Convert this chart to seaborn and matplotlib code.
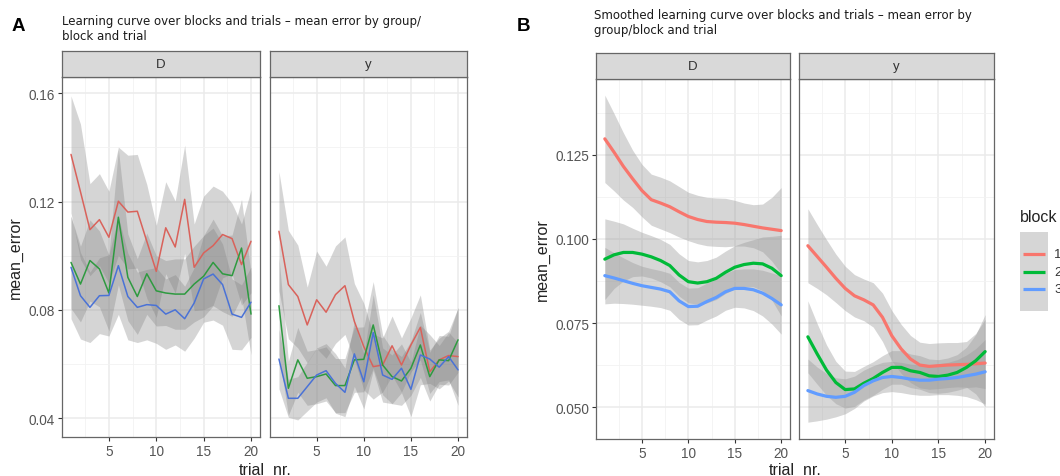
import numpy as np
import pandas as pd
import matplotlib
matplotlib.use("Agg")
import matplotlib.pyplot as plt
from matplotlib.ticker import MultipleLocator
import seaborn as sns

# ---------------- data ----------------
trials = list(range(1, 21))
groups = ["D", "y"]
blocks = ["1", "2", "3"]

# Panel A: raw mean error per trial
a_D_1 = [0.1374, 0.1236, 0.1096, 0.1133, 0.1068, 0.1201, 0.1161, 0.1164, 0.1053, 0.0942,
         0.1103, 0.1032, 0.1208, 0.0957, 0.1010, 0.1037, 0.1078, 0.1063, 0.0967, 0.1053]
a_D_2 = [0.0975, 0.0895, 0.0982, 0.0951, 0.0862, 0.1142, 0.0920, 0.0849, 0.0933, 0.0870,
         0.0862, 0.0858, 0.0858, 0.0895, 0.0924, 0.0975, 0.0933, 0.0926, 0.1028, 0.0784]
a_D_3 = [0.0957, 0.0852, 0.0809, 0.0852, 0.0853, 0.0963, 0.0849, 0.0809, 0.0819, 0.0816,
         0.0784, 0.0800, 0.0767, 0.0825, 0.0914, 0.0932, 0.0893, 0.0784, 0.0772, 0.0828]
a_y_1 = [0.1090, 0.0893, 0.0849, 0.0744, 0.0837, 0.0791, 0.0856, 0.0889, 0.0757, 0.0664,
         0.0590, 0.0596, 0.0667, 0.0596, 0.0670, 0.0735, 0.0571, 0.0615, 0.0631, 0.0627]
a_y_2 = [0.0815, 0.0510, 0.0615, 0.0547, 0.0553, 0.0563, 0.0520, 0.0520, 0.0615, 0.0617,
         0.0744, 0.0596, 0.0553, 0.0537, 0.0584, 0.0670, 0.0553, 0.0615, 0.0612, 0.0689]
a_y_3 = [0.0618, 0.0473, 0.0473, 0.0516, 0.0559, 0.0575, 0.0528, 0.0495, 0.0637, 0.0534,
         0.0716, 0.0559, 0.0543, 0.0584, 0.0506, 0.0633, 0.0618, 0.0588, 0.0627, 0.0578]

# Panel A: ribbon half widths
ea_D_1 = [0.0216, 0.025, 0.017, 0.017, 0.017, 0.020, 0.021, 0.021, 0.021, 0.017,
          0.017, 0.017, 0.020, 0.016, 0.021, 0.022, 0.016, 0.013, 0.015, 0.019]
ea_D_2 = [0.017, 0.014, 0.015, 0.014, 0.014, 0.025, 0.016, 0.014, 0.015, 0.013,
          0.012, 0.013, 0.013, 0.014, 0.015, 0.016, 0.014, 0.015, 0.018, 0.015]
ea_D_3 = [0.019, 0.016, 0.013, 0.014, 0.015, 0.018, 0.016, 0.013, 0.013, 0.014,
          0.013, 0.013, 0.012, 0.013, 0.016, 0.017, 0.015, 0.013, 0.012, 0.013]
ea_y_1 = [0.022, 0.020, 0.019, 0.014, 0.018, 0.017, 0.018, 0.018, 0.014, 0.016,
          0.012, 0.010, 0.011, 0.010, 0.010, 0.012, 0.008, 0.008, 0.009, 0.018]
ea_y_2 = [0.018, 0.010, 0.012, 0.010, 0.010, 0.010, 0.010, 0.010, 0.012, 0.012,
          0.016, 0.011, 0.010, 0.009, 0.010, 0.012, 0.009, 0.009, 0.009, 0.012]
ea_y_3 = [0.011, 0.007, 0.008, 0.009, 0.010, 0.010, 0.011, 0.009, 0.012, 0.010,
          0.014, 0.010, 0.009, 0.009, 0.010, 0.011, 0.009, 0.008, 0.009, 0.010]

# Panel B: smoothed mean error
b_D_1 = [0.1298, 0.1258, 0.1216, 0.1179, 0.1144, 0.1117, 0.1107, 0.1096, 0.1081, 0.1067,
         0.1058, 0.1052, 0.1050, 0.1049, 0.1047, 0.1043, 0.1038, 0.1033, 0.1029, 0.1025]
b_D_2 = [0.0940, 0.0953, 0.0960, 0.0960, 0.0955, 0.0947, 0.0936, 0.0921, 0.0893, 0.0873,
         0.0869, 0.0873, 0.0883, 0.0901, 0.0916, 0.0924, 0.0928, 0.0926, 0.0913, 0.0891]
b_D_3 = [0.0891, 0.0884, 0.0876, 0.0868, 0.0861, 0.0856, 0.0851, 0.0843, 0.0816, 0.0799,
         0.0800, 0.0814, 0.0826, 0.0843, 0.0853, 0.0853, 0.0849, 0.0839, 0.0823, 0.0804]
b_y_1 = [0.0980, 0.0948, 0.0916, 0.0883, 0.0853, 0.0831, 0.0819, 0.0804, 0.0767, 0.0712,
         0.0673, 0.0643, 0.0625, 0.0621, 0.0623, 0.0625, 0.0626, 0.0627, 0.0629, 0.0631]
b_y_2 = [0.0709, 0.0658, 0.0610, 0.0573, 0.0552, 0.0554, 0.0571, 0.0585, 0.0603, 0.0618,
         0.0618, 0.0608, 0.0603, 0.0593, 0.0591, 0.0595, 0.0603, 0.0618, 0.0638, 0.0665]
b_y_3 = [0.0549, 0.0539, 0.0532, 0.0529, 0.0532, 0.0544, 0.0564, 0.0578, 0.0588, 0.0591,
         0.0588, 0.0583, 0.0580, 0.0580, 0.0583, 0.0585, 0.0588, 0.0593, 0.0598, 0.0605]

# Panel B: confidence band half widths
eb_D_1 = [0.013, 0.0115, 0.010, 0.0085, 0.0078, 0.0076, 0.0077, 0.0077, 0.0075, 0.0072,
          0.0072, 0.0072, 0.0072, 0.0072, 0.0068, 0.0064, 0.0064, 0.0071, 0.0095, 0.0128]
eb_D_2 = [0.012, 0.010, 0.0085, 0.0072, 0.0065, 0.0063, 0.0063, 0.0063, 0.0063, 0.0063,
          0.0063, 0.0063, 0.0063, 0.0063, 0.0064, 0.0066, 0.0070, 0.0080, 0.0095, 0.012]
eb_D_3 = [0.0084, 0.0075, 0.0068, 0.0062, 0.0058, 0.0056, 0.0055, 0.0055, 0.0055, 0.0055,
          0.0055, 0.0055, 0.0055, 0.0055, 0.0056, 0.0058, 0.0062, 0.0068, 0.0076, 0.0087]
eb_y_1 = [0.011, 0.0095, 0.0082, 0.0072, 0.0066, 0.0063, 0.0062, 0.0066, 0.0072, 0.0075,
          0.0073, 0.0070, 0.0068, 0.0068, 0.0068, 0.0067, 0.0066, 0.0068, 0.0090, 0.0130]
eb_y_2 = [0.0107, 0.0090, 0.0075, 0.0063, 0.0055, 0.0052, 0.0050, 0.0050, 0.0050, 0.0050,
          0.0050, 0.0050, 0.0050, 0.0050, 0.0050, 0.0051, 0.0053, 0.0060, 0.0078, 0.0110]
eb_y_3 = [0.0094, 0.0080, 0.0068, 0.0058, 0.0052, 0.0048, 0.0046, 0.0045, 0.0045, 0.0045,
          0.0045, 0.0045, 0.0045, 0.0045, 0.0046, 0.0048, 0.0053, 0.0062, 0.0076, 0.0096]

title_a = "Learning curve over blocks and trials \u2013 mean error by group/\nblock and trial"
title_b = "Smoothed learning curve over blocks and trials \u2013 mean error by\ngroup/block and trial"
ylabel = "mean_error"
xlabel = "trial_nr."
a_yticks = [0.04, 0.08, 0.12, 0.16]
b_yticks = [0.050, 0.075, 0.100, 0.125]
xticks = [5, 10, 15, 20]


def long_frame(means, errs):
    rows = []
    for g in groups:
        for b in blocks:
            m = means[(g, b)]
            e = errs[(g, b)]
            for t, v, s in zip(trials, m, e):
                rows.append(dict(group=g, block=b, trial=t, mean_error=v,
                                 lo=v - s, hi=v + s))
    return pd.DataFrame(rows)


dfA = long_frame({("D", "1"): a_D_1, ("D", "2"): a_D_2, ("D", "3"): a_D_3,
                  ("y", "1"): a_y_1, ("y", "2"): a_y_2, ("y", "3"): a_y_3},
                 {("D", "1"): ea_D_1, ("D", "2"): ea_D_2, ("D", "3"): ea_D_3,
                  ("y", "1"): ea_y_1, ("y", "2"): ea_y_2, ("y", "3"): ea_y_3})
dfB = long_frame({("D", "1"): b_D_1, ("D", "2"): b_D_2, ("D", "3"): b_D_3,
                  ("y", "1"): b_y_1, ("y", "2"): b_y_2, ("y", "3"): b_y_3},
                 {("D", "1"): eb_D_1, ("D", "2"): eb_D_2, ("D", "3"): eb_D_3,
                  ("y", "1"): eb_y_1, ("y", "2"): eb_y_2, ("y", "3"): eb_y_3})

# ---------------- style ----------------
sns.set_theme(style="white")
plt.rcParams["font.family"] = ["Liberation Sans", "DejaVu Sans"]

W, H = 1060, 477
fig = plt.figure(figsize=(W / 100, H / 100), dpi=100)
fig.patch.set_facecolor("white")


def rect(x0, y0, x1, y1):
    return [x0 / W, 1 - y1 / H, (x1 - x0) / W, (y1 - y0) / H]


palA = {"1": "#D9625B", "2": "#2E9A40", "3": "#4A72D6"}
palB = {"1": "#F8766D", "2": "#00BA38", "3": "#619CFF"}
TICKC = "#555555"
BORDER = "#666666"


def style_panel(ax, xlim, ylim, yticks, yminor, first):
    ax.set_facecolor("white")
    ax.set_xlim(*xlim)
    ax.set_ylim(*ylim)
    ax.set_xticks(xticks)
    ax.set_yticks(yticks)
    ax.xaxis.set_minor_locator(MultipleLocator(2.5))
    ax.yaxis.set_minor_locator(MultipleLocator(yminor))
    ax.grid(which="major", color="#EBEBEB", linewidth=1.1)
    ax.grid(which="minor", color="#F2F2F2", linewidth=0.6)
    ax.set_axisbelow(True)
    for s in ax.spines.values():
        s.set_visible(True)
        s.set_color(BORDER)
        s.set_linewidth(0.9)
    ax.tick_params(axis="both", which="major", length=3, width=0.8, color="#333333",
                   labelsize=9.8, labelcolor=TICKC, pad=2, bottom=True, left=first)
    ax.tick_params(axis="both", which="minor", length=0)
    if not first:
        ax.set_yticklabels([])
    ax.set_xlabel("")
    ax.set_ylabel("")


def strip(x0, x1, y0, y1, label):
    s = fig.add_axes(rect(x0, y0, x1, y1))
    s.set_facecolor("#D9D9D9")
    s.set_xticks([])
    s.set_yticks([])
    for sp in s.spines.values():
        sp.set_visible(True)
        sp.set_color(BORDER)
        sp.set_linewidth(0.9)
    s.text(0.5, 0.5, label, ha="center", va="center", fontsize=9.5, color="#333333",
           transform=s.transAxes)


xlim = (0.05, 20.95)

# ---------------- Panel A ----------------
panelsA = [("D", 62, 260), ("y", 270, 467)]
for i, (g, x0, x1) in enumerate(panelsA):
    ax = fig.add_axes(rect(x0, 78, x1, 438))
    sub = dfA[dfA.group == g]
    sns.lineplot(data=sub, x="trial", y="mean_error", hue="block", palette=palA,
                 hue_order=blocks, linewidth=1.1, legend=False, ax=ax, zorder=3)
    for b in blocks:
        d = sub[sub.block == b]
        ax.fill_between(d.trial, d.lo, d.hi, color="#7F7F7F", alpha=0.32,
                        linewidth=0, zorder=2)
    style_panel(ax, xlim, (0.033, 0.166), a_yticks, 0.02, i == 0)
    if i == 0:
        ax.set_yticklabels(["0.04", "0.08", "0.12", "0.16"])
    strip(x0, x1, 52, 78, g)

# ---------------- Panel B ----------------
panelsB = [("D", 596, 790), ("y", 799, 994)]
for i, (g, x0, x1) in enumerate(panelsB):
    ax = fig.add_axes(rect(x0, 80, x1, 440))
    sub = dfB[dfB.group == g]
    for b in blocks:
        d = sub[sub.block == b]
        ax.fill_between(d.trial, d.lo, d.hi, color="#999999", alpha=0.4,
                        linewidth=0, zorder=2)
    sns.lineplot(data=sub, x="trial", y="mean_error", hue="block", palette=palB,
                 hue_order=blocks, linewidth=2.3, legend=False, ax=ax, zorder=3)
    style_panel(ax, xlim, (0.0405, 0.1476), b_yticks, 0.0125, i == 0)
    if i == 0:
        ax.set_yticklabels(["0.050", "0.075", "0.100", "0.125"])
    strip(x0, x1, 54, 80, g)

# ---------------- texts ----------------
fig.text(12 / W, 1 - 31 / H, "A", fontsize=13.5, fontweight="bold", color="black",
         family=["Liberation Sans", "DejaVu Sans"])
fig.text(517 / W, 1 - 31 / H, "B", fontsize=13.5, fontweight="bold", color="black",
         family=["Liberation Sans", "DejaVu Sans"])
fig.text(62 / W, 1 - 15 / H, title_a, fontsize=8.5, color="#1A1A1A", va="top",
         linespacing=1.2, family=["DejaVu Sans"])
fig.text(594 / W, 1 - 9 / H, title_b, fontsize=8.5, color="#1A1A1A", va="top",
         linespacing=1.2, family=["DejaVu Sans"])

fig.text(15 / W, 1 - 258 / H, ylabel, rotation=90, ha="center", va="center",
         fontsize=11.5, color="#222222")
fig.text(542 / W, 1 - 260 / H, ylabel, rotation=90, ha="center", va="center",
         fontsize=11.5, color="#222222")
fig.text(265 / W, 1 - 475 / H, xlabel, ha="center", va="baseline", fontsize=11.5,
         color="#222222")
fig.text(795 / W, 1 - 475 / H, xlabel, ha="center", va="baseline", fontsize=11.5,
         color="#222222")

# ---------------- legend (panel B) ----------------
lax = fig.add_axes(rect(1010, 200, 1060, 320))
lax.set_xlim(1010, 1060)
lax.set_ylim(320, 200)
lax.axis("off")
lax.text(1020, 222, "block", fontsize=11.5, color="#222222", va="baseline", ha="left")
lax.add_patch(plt.Rectangle((1020, 233), 28, 79, facecolor="#999999", alpha=0.4,
                            edgecolor="none"))
for b, yy in zip(blocks, [255, 272.5, 290]):
    lax.plot([1023, 1045], [yy, yy], color=palB[b], linewidth=2.3,
             solid_capstyle="butt")
    lax.text(1054, yy, b, fontsize=9.5, color="#333333", va="center", ha="left")

fig.savefig("out.png", dpi=100, facecolor="white")
